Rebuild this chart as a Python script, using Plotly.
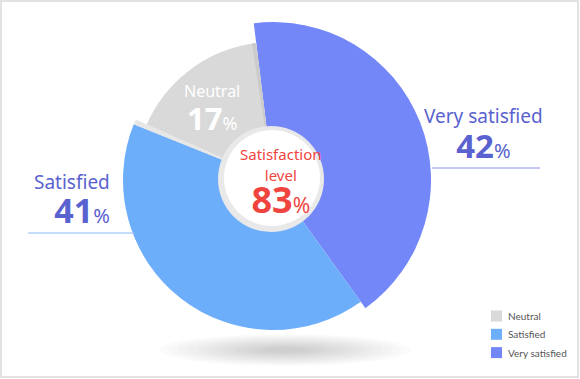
import plotly.graph_objects as go

# ---- data ----
categories = ["Very satisfied", "Satisfied", "Neutral"]
values = [42, 41, 17]
radii = [158, 150, 138]          # visual radius of each slice (rose style)
colors = ["#7387f8", "#6daefa", "#d9d9d9"]
legend_order = ["Neutral", "Satisfied", "Very satisfied"]
center_title = ["Satisfaction", "level"]
center_value = 83

W, H = 580, 379
CX, CY, R = 273, 180, 160        # pixel centre of the pie and pixel radius for axis range
START = -7                       # start angle (deg, clockwise from 12 o'clock)


def px(x, y):
    return x / W, 1 - y / H


# angular geometry from values
total = sum(values)
thetas, widths, ends = [], [], []
acc = START
for v in values:
    w = v / total * 360
    thetas.append(acc + w / 2)
    widths.append(w)
    acc += w
    ends.append(acc)

fig = go.Figure()
fig.add_trace(go.Barpolar(
    r=radii, theta=thetas, width=widths,
    marker=dict(color=colors, line=dict(width=0)),
    text=categories, hoverinfo="text", showlegend=False,
))
# subtle slice shadows (light band past "Satisfied", dark rim at end of "Neutral")
fig.add_trace(go.Barpolar(
    r=[radii[1], radii[2]],
    theta=[ends[1] + 1.0, ends[2] - 0.9],
    width=[2.0, 1.8],
    marker=dict(color=["#e7e7e7", "#cbcbcb"], line=dict(width=0)),
    hoverinfo="skip", showlegend=False,
))

fig.update_layout(
    width=W, height=H,
    margin=dict(l=0, r=0, t=0, b=0),
    paper_bgcolor="white",
    polar=dict(
        domain=dict(x=[(CX - R) / W, (CX + R) / W], y=[1 - (CY + R) / H, 1 - (CY - R) / H]),
        bgcolor="rgba(0,0,0,0)",
        bargap=0,
        radialaxis=dict(visible=False, range=[0, R]),
        angularaxis=dict(visible=False, rotation=90, direction="clockwise"),
    ),
)

shapes = []
# frame
x0, y0 = px(1, 1); x1, y1 = px(578, 377)
shapes.append(dict(type="rect", xref="paper", yref="paper", x0=x0, y0=y1, x1=x1, y1=y0,
                   line=dict(color="#e2e2e2", width=2), layer="below"))
# soft shadow under the pie
for i in range(12):
    f = 1 - i * 0.075
    hw, hh = 126 * f, 16 * f
    a0, b0 = px(285 - hw, 350 - hh); a1, b1 = px(285 + hw, 350 + hh)
    shapes.append(dict(type="circle", xref="paper", yref="paper", x0=a0, y0=b1, x1=a1, y1=b0,
                       fillcolor="rgba(0,0,0,0.016)", line=dict(width=0), layer="below"))
# centre disc with light ring
for rr, col, dx, dy in [(53, "#e9e9e9", 0, 0), (48, "#ffffff", 1, -1)]:
    a0, b0 = px(271 + dx - rr, 179 + dy - rr); a1, b1 = px(271 + dx + rr, 179 + dy + rr)
    shapes.append(dict(type="circle", xref="paper", yref="paper", x0=a0, y0=b1, x1=a1, y1=b0,
                       fillcolor=col, line=dict(width=0), layer="above"))
# label leader lines
for (xa, xb, yy, col) in [(432, 540, 168, "#8a90f2"), (28, 135, 233, "#8dbbf6")]:
    a0, b0 = px(xa, yy); a1, _ = px(xb, yy)
    shapes.append(dict(type="line", xref="paper", yref="paper", x0=a0, y0=b0, x1=a1, y1=b0,
                       line=dict(color=col, width=1), layer="above"))
# legend swatches
leg_colors = {c: col for c, col in zip(categories, colors)}
for i, name in enumerate(legend_order):
    yc = 316 + i * 18.3
    a0, b0 = px(491, yc - 5.5); a1, b1 = px(502, yc + 5.5)
    shapes.append(dict(type="rect", xref="paper", yref="paper", x0=a0, y0=b1, x1=a1, y1=b0,
                       fillcolor=leg_colors[name], line=dict(width=0), layer="above"))

anns = []
FONT = "Noto Sans"
LBL = "#5a62cf"
RED = "#f0453f"


def ann(text, x, y, size, color, family=FONT, xanchor="center", align="center"):
    ax, ay = px(x, y)
    anns.append(dict(text=text, x=ax, y=ay, xref="paper", yref="paper", showarrow=False,
                     xanchor=xanchor, yanchor="middle", align=align,
                     font=dict(family=family, size=size, color=color)))


def sp(t, size, bold=False):
    t = f"<b>{t}</b>" if bold else t
    return f"<span style='font-size:{size}px'>{t}</span>"


vs, s, n = values
# two-line labels: base font size sets the line pitch (1.3 x size)
ann(sp(categories[0], 19) + "<br>" + sp(vs, 33, True) + sp("%", 20), 483, 135.5, 26.9, LBL)
ann(sp(categories[1], 19) + "<br>" + sp(s, 34, True) + sp("%", 20), 112, 201, 26.2, LBL,
    xanchor="right", align="right")
ann(sp(categories[2], 16) + "<br>" + sp(n, 31, True) + sp("%", 18), 212, 109.5, 25.4, "white")
# centre text: lines at pitch 10.67px -> rows 0, 2, 5
ann(sp(center_title[0], 15) + "<br><br>" + sp(center_title[1], 15) + "<br><br><br>"
    + sp(center_value, 36, True) + sp("%", 21), 281, 184, 8.2, RED)
for i, name in enumerate(legend_order):
    ann(name, 506, 316 + i * 18.3, 10, "#555555", family="Lato", xanchor="left", align="left")

fig.update_layout(shapes=shapes, annotations=anns)
fig.write_html("out.html", config={"displayModeBar": False},
               post_script="document.body.style.margin='0';document.body.style.overflow='hidden';")
